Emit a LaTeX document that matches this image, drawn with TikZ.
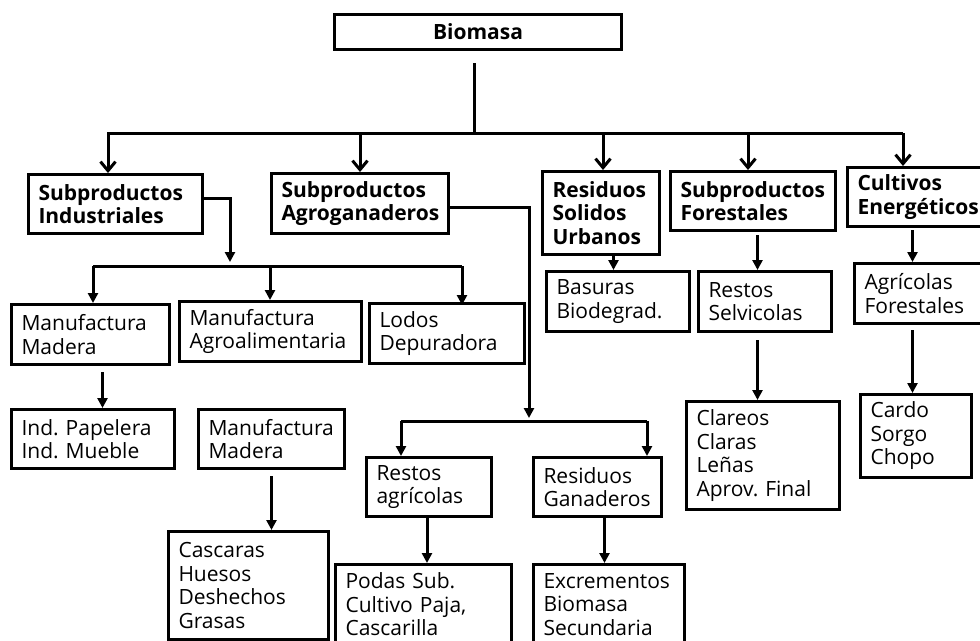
\documentclass[tikz,border=0pt]{standalone}
\usepackage{fontspec}
\setmainfont{Open Sans}
\usetikzlibrary{arrows.meta}
\hyphenpenalty=10000
\exhyphenpenalty=10000
\frenchspacing
\newcommand\fs{\fontsize{21}{23.5}\selectfont}
\tikzset{
  box/.style={draw, line width=3pt, anchor=north west, inner xsep=10pt,
    inner ysep=0pt, align=left, font=\fs},
  head/.style={box, font=\fs\bfseries},
  wire/.style={line width=3pt},
  barb/.style={wire, -{Straight Barb[length=9pt,width=15pt]}},
  tip/.style={wire, -{Triangle[length=10pt,width=10pt]}},
}
\begin{document}
\begin{tikzpicture}[x=1pt,y=-1pt]
\useasboundingbox (0,0) rectangle (980,640);
\clip (0,0) rectangle (980,640);

% root and first level
\node[head, align=center, minimum width=287, minimum height=35, text width=267] (bio) at (333,13) {Biomasa};
\node[head, minimum width=174, minimum height=59, text width=154] (si) at (27,173) {Subproductos\\Industriales};
\node[head, minimum width=177, minimum height=60, text width=157] (sa) at (270,172) {Subproductos\\Agroganaderos};
\node[head, minimum width=117, minimum height=83, text width=97] (rsu) at (541,170) {Residuos\\Solidos\\Urbanos};
\node[head, minimum width=165, minimum height=59, text width=145] (sf) at (669,170) {Subproductos\\Forestales};
\node[head, minimum width=150, minimum height=59, text width=130] (ce) at (846,166) {Cultivos\\Energéticos};

% second level
\node[box, minimum width=158, minimum height=60, text width=138] (mm1) at (10,303) {Manufactura\\Madera};
\node[box, minimum width=182, minimum height=60, text width=162] (ma) at (178,300) {Manufactura\\Agroalimentaria};
\node[box, minimum width=155, minimum height=60, text width=135] (ld) at (368,302) {Lodos\\Depuradora};
\node[box, minimum width=143, minimum height=60, text width=123] (bb) at (545,270) {Basuras\\Biodegrad.};
\node[box, minimum width=133, minimum height=60, text width=113] (rs) at (697,270) {Restos\\Selvicolas};
\node[box, minimum width=140, minimum height=60, text width=120] (af) at (853,262) {Agrícolas\\Forestales};

% third level
\node[box, minimum width=163, minimum height=59, text width=143] (ip) at (10,408) {Ind. Papelera\\Ind. Mueble};
\node[box, minimum width=146, minimum height=59, text width=126] (mm2) at (197,408) {Manufactura\\Madera};
\node[box, minimum width=125, minimum height=59, text width=105] (ra) at (365,456) {Restos\\agrícolas};
\node[box, minimum width=128, minimum height=59, text width=108] (rg) at (532,456) {Residuos\\Ganaderos};
\node[box, minimum width=153, minimum height=108, text width=133] (cl) at (685,400) {Clareos\\Claras\\Leñas\\Aprov. Final};
\node[box, minimum width=111, minimum height=83, text width=91] (cs) at (859,393) {Cardo\\Sorgo\\Chopo};

% bottom level (boxes run past the lower edge)
\node[box, minimum width=160, minimum height=108, text width=140] (ch) at (167,530) {Cascaras\\Huesos\\Deshechos\\Grasas};
\node[box, minimum width=176, minimum height=80, text width=156] (pd) at (334,563) {Podas Sub.\\Cultivo Paja,\\Cascarilla};
\node[box, minimum width=151, minimum height=80, text width=131] (ex) at (532,563) {Excrementos\\Biomasa\\Secundaria};
\draw[wire] (pd.south west) -- ++(0,10) (pd.south east) -- ++(0,10);
\draw[wire] (ex.south west) -- ++(0,10) (ex.south east) -- ++(0,10);

% main distribution bus
\coordinate (t0) at (474,133);
\coordinate (tA) at (108,133);
\coordinate (tB) at (360,133);
\coordinate (tC) at (603,133);
\coordinate (tD) at (748,133);
\coordinate (tE) at (903,133);
\draw[wire] (t0 |- bio.south) ++(0,12) -- (t0);
\draw[barb] (tE) -- (tA) -- (tA |- si.north);
\draw[barb] (tB) -- (tB |- sa.north);
\draw[barb] (tC) -- (tC |- rsu.north);
\draw[barb] (tD) -- (tD |- sf.north);
\draw[barb] (tE) -- (tE |- ce.north);

% industrial by-products
\coordinate (k0) at (230,262);
\draw[tip] ([yshift=5.5pt]si.east) -| (k0);
\coordinate (bL) at (93,266);
\coordinate (bM) at (270,266);
\coordinate (bR) at (462,266);
\draw[wire] (bL) -- (bR);
\draw[tip] (bL) -- (bL |- mm1.north);
\draw[tip] (bM) -- (bM |- ma.north);
\draw[tip] (bR) -- ([yshift=-3pt]bR |- ld.north);

% agro-livestock by-products
\coordinate (g0) at (529,418);
\draw[tip] ([yshift=-4pt]sa.east) -| (g0);
\coordinate (cL) at (401,421);
\coordinate (cR) at (647,421);
\draw[wire] (cL) -- (cR);
\draw[tip] (cL) -- (cL |- ra.north);
\draw[tip] (cR) -- (cR |- rg.north);

% single links
\path (mm1.south) ++(12,6) coordinate (a1);
\draw[tip] (a1) -- (a1 |- ip.north);
\path (mm2.south) ++(0,6) coordinate (a2);
\draw[tip] (a2) -- (a2 |- ch.north);
\path (ra.south) ++(-2,0) coordinate (a3);
\draw[tip] (a3) -- (a3 |- pd.north);
\path (rg.south) ++(7,-2) coordinate (a4);
\draw[tip] (a4) -- (a4 |- ex.north);
\path (rsu.south) ++(12.5,0) coordinate (a5);
\draw[tip] (a5) -- (a5 |- bb.north);
\path (sf.south) ++(4.5,3) coordinate (a6);
\draw[tip] (a6) -- (a6 |- rs.north);
\path (rs.south) ++(-7.5,7) coordinate (a7);
\draw[tip] (a7) -- (a7 |- cl.north);
\path (ce.south) ++(-10,2) coordinate (a8);
\draw[tip] (a8) -- (a8 |- af.north);
\path (af.south) ++(-12,5) coordinate (a9);
\draw[tip] (a9) -- (a9 |- cs.north);
\end{tikzpicture}
\end{document}
